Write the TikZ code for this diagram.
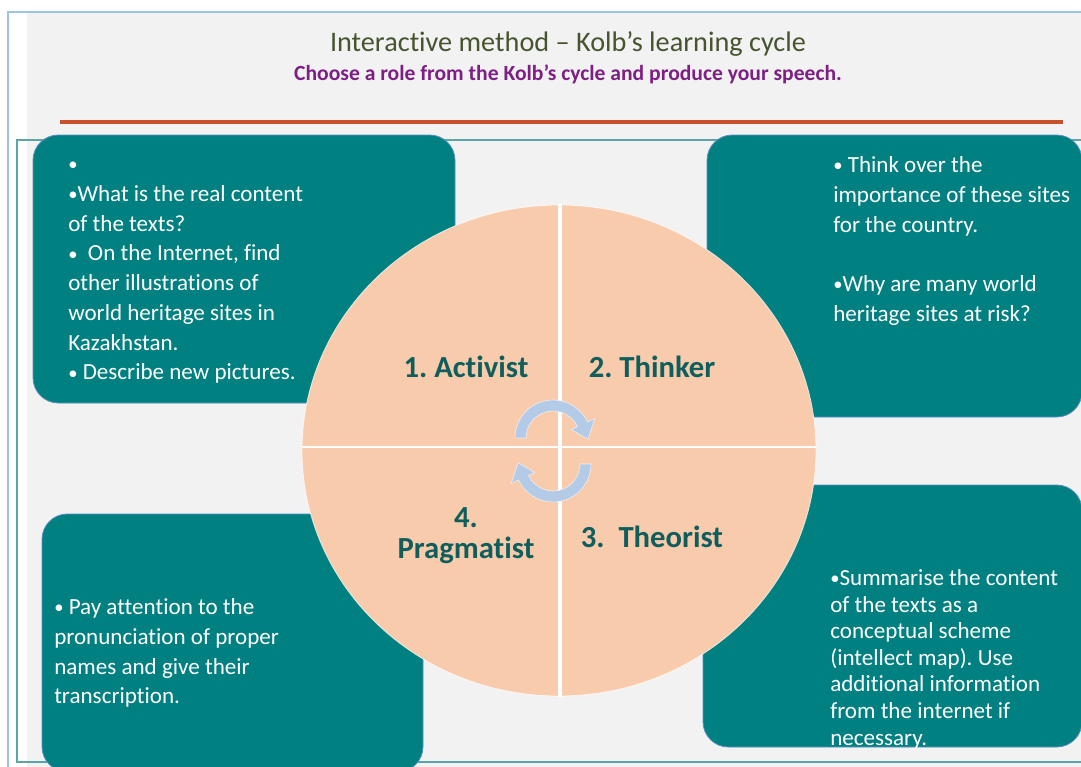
\documentclass[tikz,border=0pt]{standalone}
\usepackage{fontspec}
\setmainfont{Carlito}[Ligatures=NoCommon]
\usetikzlibrary{calc}
\definecolor{bggray}{HTML}{F2F2F2}
\definecolor{edgeblue}{HTML}{9DC3E6}
\definecolor{framecol}{HTML}{5AA6A6}
\definecolor{redline}{HTML}{C8502C}
\definecolor{boxteal}{HTML}{008080}
\definecolor{boxedge}{HTML}{5B8FC4}
\definecolor{peach}{HTML}{F8CBAD}
\definecolor{labelcol}{HTML}{0F5E5C}
\definecolor{arrowcol}{HTML}{B4CBE8}
\definecolor{titlecol}{HTML}{46542F}
\definecolor{subcol}{HTML}{7E1F84}
\newcommand{\bul}{{\fontsize{14}{14}\selectfont\raisebox{0.1ex}{•}}}
\tikzset{
  tbox/.style={fill=boxteal, draw=boxedge, line width=0.6pt, rounded corners=19pt},
  btext/.style={anchor=north west, inner sep=0pt, align=left, text=white,
    font=\fontsize{17.3}{22.3}\selectfont\frenchspacing},
  qlabel/.style={text=labelcol, inner sep=0pt, align=center,
    font=\bfseries\fontsize{23}{23.3}\selectfont\frenchspacing},
  cyc/.style={fill=arrowcol, draw=white, draw opacity=0.6, line width=0.5pt}
}
\begin{document}
\begin{tikzpicture}[x=0.75pt,y=-0.75pt]
\useasboundingbox (0,0) rectangle (1081,767);
\fill[white] (0,0) rectangle (1081,767);
\fill[bggray] (27,12) rectangle (1081,767);
\draw[edgeblue, line width=0.9pt] (8,767) -- (8,12) -- (1081,12);
\draw[redline, line width=3pt] (60,122) -- (1063,122);
\draw[framecol, line width=0.9pt] (1081,140) -- (17,140) -- (17,762) -- (1081,762);

\node[font=\fontsize{21.2}{24}\selectfont, text=titlecol] (title) at (568,44) {Interactive method – Kolb’s learning cycle};
\node[font=\bfseries\fontsize{16.2}{19}\selectfont\frenchspacing, text=subcol] (subtitle) at (568,74) {Choose a role from the Kolb’s cycle and produce your speech.};

% boxes
\draw[tbox] (33,135) rectangle (455,403);
\draw[tbox] (707,135) rectangle (1082,417);
\draw[tbox] (42,514) rectangle (423,772);
\draw[tbox] (703,485) rectangle (1082,747);

\node[btext] (tltext) at (68,150.7) {\strut\bul\\\bul What is the real content\\of the texts?\\\bul\ \ On the Internet, find\\other illustrations of\\world heritage sites in\\Kazakhstan.\\\bul\ Describe new pictures.};
\node[btext] (trtext) at (833,151.7) {\strut\bul\ Think over the\\importance of these sites\\for the country.\\\mbox{}\\\bul Why are many world\\heritage sites at risk?};
\node[btext] (bltext) at (54,593.7) {\strut\bul\ Pay attention to the\\pronunciation of proper\\names and give their\\transcription.};
\node[btext, font=\fontsize{17.3}{19.9}\selectfont\frenchspacing] (brtext) at (830,567) {\strut\bul Summarise the content\\of the texts as a\\conceptual scheme\\(intellect map). Use\\additional information\\from the internet if\\necessary.};

% circle
\fill[peach, draw=white, draw opacity=0.7, line width=0.6pt] (559,450.5) ellipse [x radius=257, y radius=245.5];
\draw[white, line width=3.5pt] (560,204) -- (560,697);
\draw[white, line width=1.6pt] (302,447) -- (816,447);

\node[qlabel] (q1) at (466,367) {1. Activist};
\node[qlabel] (q2) at (652,367) {2. Thinker};
\node[qlabel] (q3) at (652,537) {3.\ \ Theorist};
\node[qlabel] (q4) at (466,536) {4.\\Pragmatist};

% cycle arrows
\coordinate (ct) at (553,438);
\coordinate (cb) at (553,464);
\fill[cyc] ($(ct)+(180:38)$) arc[start angle=180, end angle=335, radius=38]
  -- ($(ct)+(335:46)$) -- ($(ct)+(2:35)$) -- ($(ct)+(335:20)$) -- ($(ct)+(335:27)$)
  arc[start angle=335, end angle=180, radius=27] -- cycle;
\fill[cyc] ($(cb)+(0:38)$) arc[start angle=0, end angle=155, radius=38]
  -- ($(cb)+(155:46)$) -- ($(cb)+(182:35)$) -- ($(cb)+(155:20)$) -- ($(cb)+(155:27)$)
  arc[start angle=155, end angle=0, radius=27] -- cycle;
\end{tikzpicture}
\end{document}
